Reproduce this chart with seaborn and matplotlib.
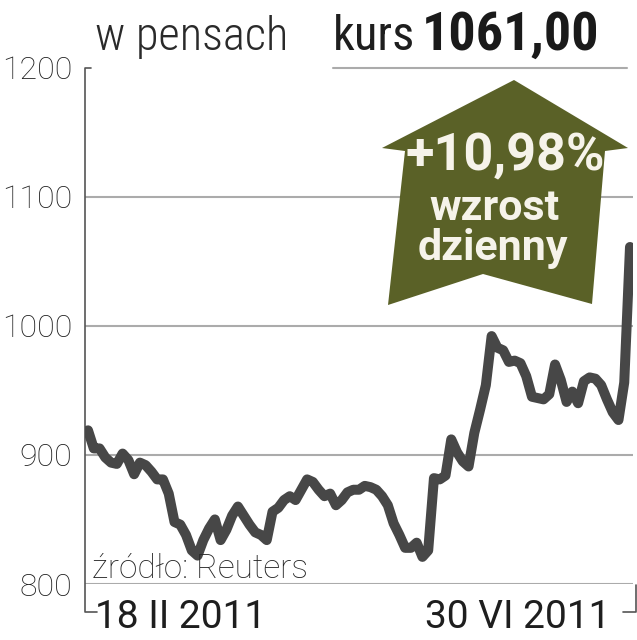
import numpy as np
import matplotlib
matplotlib.use("Agg")
import matplotlib.pyplot as plt
from matplotlib import font_manager as fm
from matplotlib.patches import Polygon
import seaborn as sns

# ---- data ----
price = [919, 905, 905, 898, 894, 893, 901, 896, 885, 894,
         892, 887, 881, 881, 870, 848, 846, 838, 826, 822,
         834, 843, 850, 834, 842, 853, 860, 853, 846, 840,
         838, 834, 856, 859, 865, 868, 865, 873, 881, 879,
         873, 868, 870, 861, 865, 871, 873, 873, 876, 875,
         873, 868, 861, 847, 838, 828, 828, 832, 821, 826,
         882, 881, 884, 912, 902, 895, 891, 917, 935, 954,
         992, 983, 981, 972, 973, 971, 961, 945, 944, 943,
         947, 970, 958, 941, 949, 940, 957, 960, 959, 954,
         943, 933, 927, 956, 1061]
session = list(range(len(price)))
yticks = [800, 900, 1000, 1100, 1200]
ytick_labels = ["800", "900", "1000", "1100", "1200"]
date_labels = ["18 II 2011", "30 VI 2011"]
unit_label = "w pensach"
price_label = ["kurs", "1061,00"]
badge_lines = ["+10,98%", "wzrost", "dzienny"]
source_label = "źródło: Reuters"

# ---- fonts ----
sns.set_style("white")
names = {f.name for f in fm.fontManager.ttflist}


def pick(*cands):
    for c in cands:
        if c in names:
            return c
    return "DejaVu Sans"


BASE = pick("Roboto", "Liberation Sans", "Open Sans")
COND = pick("Roboto Condensed", "Liberation Sans Narrow", "Open Sans Condensed", BASE)
has_light = any(f.name == BASE and f.weight in (300, "light") for f in fm.fontManager.ttflist)
LIGHT = "light" if has_light else "normal"
plt.rcParams["font.family"] = [BASE, "DejaVu Sans"]

W, H = 637, 640
fig = plt.figure(figsize=(W / 100, H / 100), dpi=100)
fig.patch.set_facecolor("white")
AX_L, AX_R, AX_T, AX_B = 85, 633, 67.5, 584
ax = fig.add_axes([AX_L / W, 1 - AX_B / H, (AX_R - AX_L) / W, (AX_B - AX_T) / H])


def axc(x, y):
    return ((x - AX_L) / (AX_R - AX_L), (AX_B - y) / (AX_B - AX_T))


# gridlines
for v in yticks[:-1]:
    ax.axhline(v, color="#ababab", lw=1.5, zorder=1)
x0, _ = axc(333, 0)
x1, _ = axc(627, 0)
ax.axhline(yticks[-1], xmin=x0, xmax=x1, color="#ababab", lw=1.5, zorder=1, clip_on=False)

# price line
sns.lineplot(x=session, y=price, ax=ax, color="#474747", linewidth=7.2,
             solid_joinstyle="round", solid_capstyle="round", zorder=3)

# limits (x: first session at px 88, last at px 630)
ppu = (630 - 88) / (session[-1] - session[0])
ax.set_xlim(session[0] - (88 - AX_L) / ppu, session[-1] + (AX_R - 630) / ppu)
ax.set_ylim(yticks[0], yticks[-1])
sns.despine(ax=ax, left=True, bottom=True)
ax.set_xticks([])
ax.set_yticks(yticks)
ax.set_yticklabels(ytick_labels, fontsize=23, color="#1f1f1f", fontweight=LIGHT)
ax.tick_params(axis="y", length=0, pad=9)
ax.set_xlabel("")
ax.set_ylabel("")

# bracket-style axis lines
ac = "#555555"
pts = [axc(91, 67.5), axc(85, 67.5), axc(85, 612), axc(97, 612)]
ax.plot([p[0] for p in pts], [p[1] for p in pts], transform=ax.transAxes,
        color=ac, lw=1.2, clip_on=False, zorder=2)
pts = [axc(636, 585), axc(636, 612), axc(623, 612)]
ax.plot([p[0] for p in pts], [p[1] for p in pts], transform=ax.transAxes,
        color=ac, lw=1.2, clip_on=False, zorder=2)

# date labels
ax.text(*axc(95, 628), date_labels[0], transform=ax.transAxes, ha="left", va="baseline",
        fontsize=28, color="#1e1e1e")
ax.text(*axc(610, 628), date_labels[1], transform=ax.transAxes, ha="right", va="baseline",
        fontsize=28, color="#1e1e1e")

# source
ax.text(*axc(92, 578), source_label, transform=ax.transAxes, ha="left", va="baseline",
        fontsize=24, color="#262626", fontweight=LIGHT, zorder=4)

# header texts
ax.text(*axc(95, 50), unit_label, transform=ax.transAxes, ha="left", va="baseline",
        fontsize=33.5, color="#2a2a2a", family=[COND, "DejaVu Sans"], fontweight=LIGHT)
ax.text(*axc(333, 50), price_label[0], transform=ax.transAxes, ha="left", va="baseline",
        fontsize=35, color="#1e1e1e", family=[COND, "DejaVu Sans"])
ax.text(*axc(599, 50), price_label[1], transform=ax.transAxes, ha="right", va="baseline",
        fontsize=39, color="#1a1a1a", family=[COND, "DejaVu Sans"], fontweight="bold")

# arrow badge
arrow_px = [(514, 80), (628, 148), (605, 151), (592, 304), (483, 274),
            (388, 305), (405, 151), (382, 148)]
poly = Polygon([axc(*p) for p in arrow_px], closed=True, transform=ax.transAxes,
               facecolor="#5a6127", edgecolor="none", clip_on=False, zorder=5)
ax.add_patch(poly)
tc = "#f6f3ea"
ax.text(*axc(505, 170), badge_lines[0], transform=ax.transAxes, ha="center", va="baseline",
        fontsize=37.5, color=tc, fontweight="bold", zorder=6)
ax.text(*axc(495, 220), badge_lines[1], transform=ax.transAxes, ha="center", va="baseline",
        fontsize=31, color=tc, fontweight="bold", zorder=6)
ax.text(*axc(493, 260), badge_lines[2], transform=ax.transAxes, ha="center", va="baseline",
        fontsize=31, color=tc, fontweight="bold", zorder=6)

fig.savefig("out.png", dpi=100, facecolor="white")
